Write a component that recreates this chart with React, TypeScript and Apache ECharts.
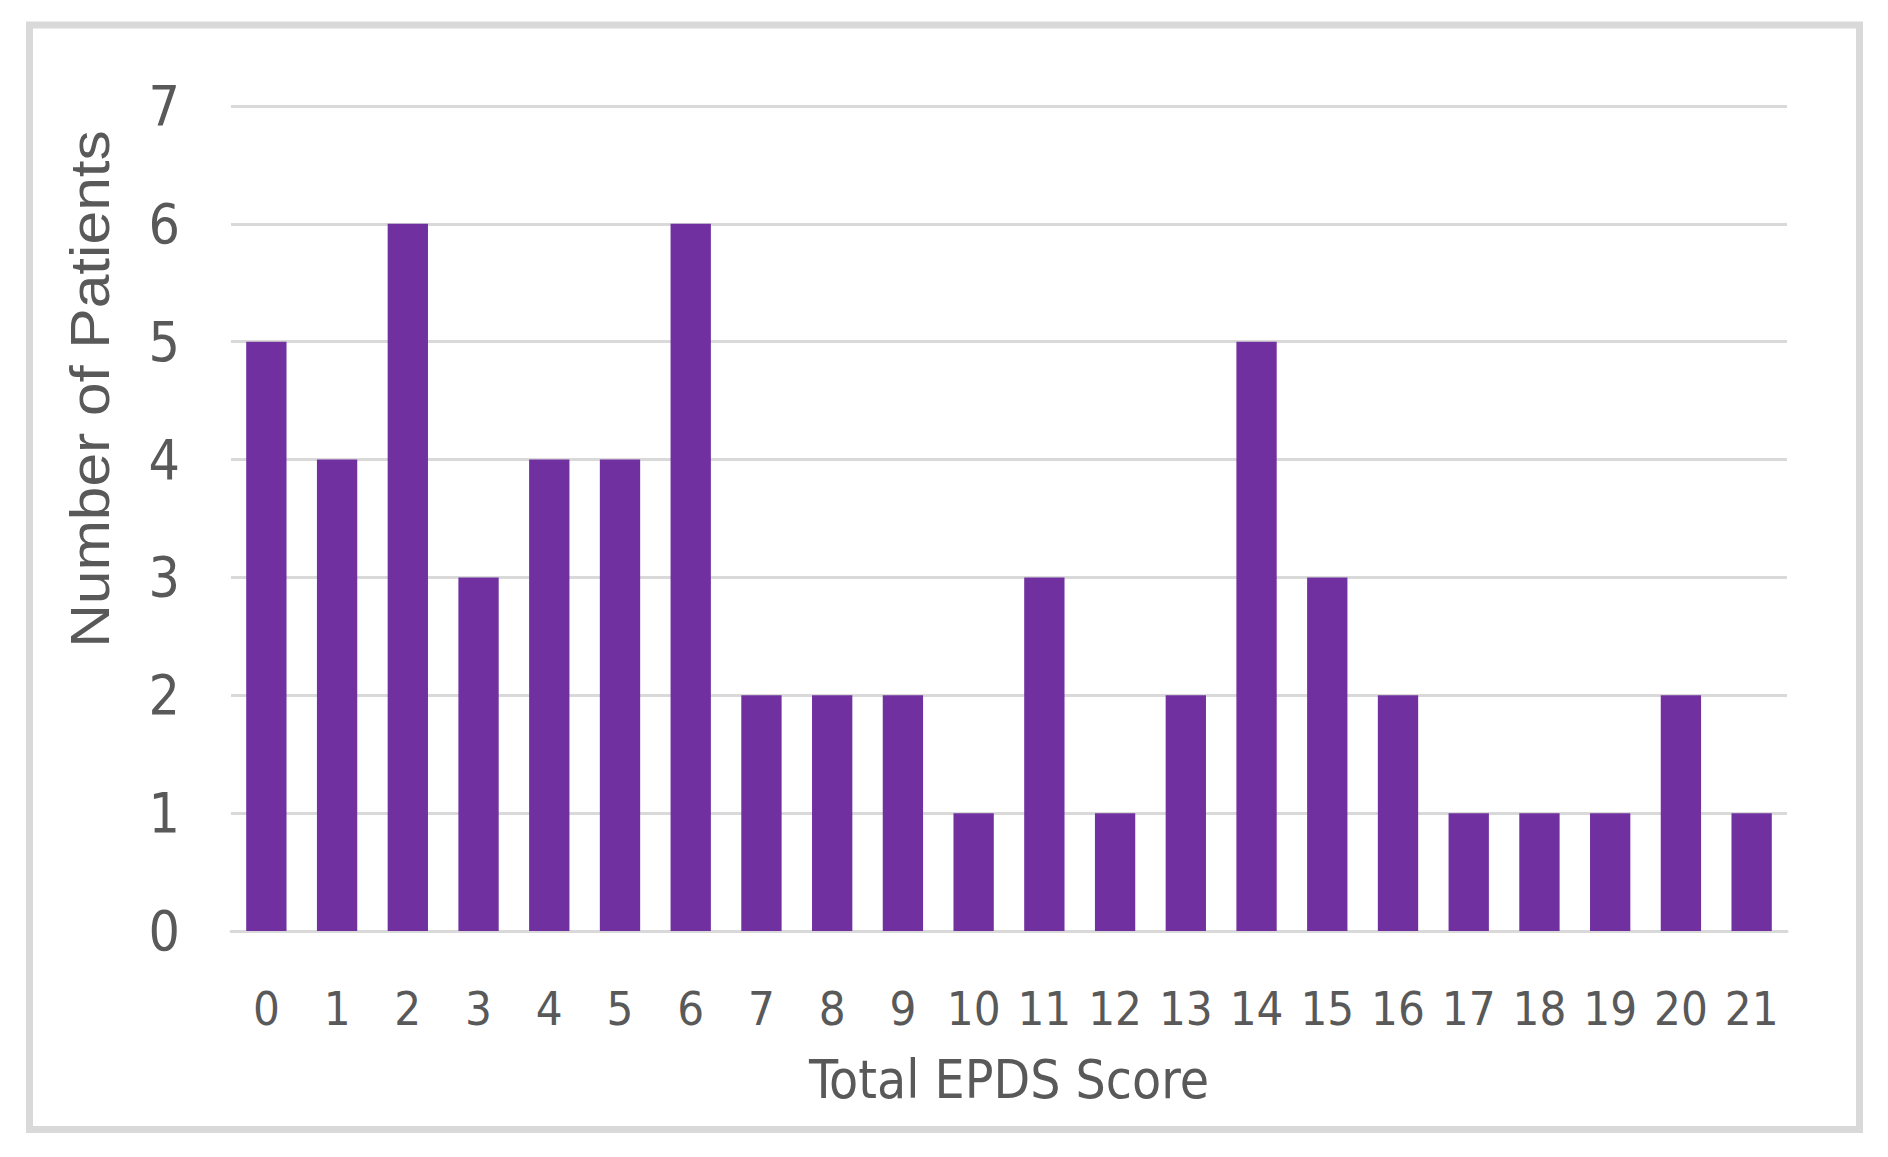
import React, { useEffect, useRef } from "react";
import * as echarts from "echarts";

const categories = ["0","1","2","3","4","5","6","7","8","9","10","11","12","13","14","15","16","17","18","19","20","21"];
const patients = [5,4,6,3,4,4,6,2,2,2,1,3,1,2,5,3,2,1,1,1,2,1];
const xTitle = "Total EPDS Score";
const yTitle = "Number of Patients";

const TEXT = "#595959";
const GRID = "#d9d9d9";
const BAR = "#7030A0";
const NARROW = "'Liberation Sans Narrow', 'DejaVu Sans Condensed', 'Liberation Sans', sans-serif";

export default function App() {
  const ref = useRef<HTMLDivElement>(null);
  useEffect(() => {
    if (!ref.current) return;
    const chart = echarts.init(ref.current, null, { renderer: "svg" });
    chart.setOption({
      animation: false,
      backgroundColor: "#ffffff",
      grid: { left: 231, right: 101, top: 106, bottom: 226, containLabel: false },
      xAxis: {
        type: "category",
        data: categories,
        name: xTitle,
        nameLocation: "middle",
        nameGap: 122,
        nameTextStyle: { color: TEXT, fontFamily: NARROW, fontSize: 53, verticalAlign: "top" },
        axisLine: { show: true, lineStyle: { color: GRID, width: 3 } },
        axisTick: { show: false },
        axisLabel: { color: TEXT, fontFamily: NARROW, fontSize: 47, margin: 54, interval: 0 },
      },
      yAxis: {
        type: "value",
        min: 0,
        max: 7,
        interval: 1,
        axisLine: { show: false },
        axisTick: { show: false },
        splitLine: { show: true, lineStyle: { color: GRID, width: 3 } },
        axisLabel: { color: TEXT, fontFamily: NARROW, fontSize: 55, margin: 51 },
      },
      graphic: [
        {
          type: "rect",
          shape: { x: 29.5, y: 25, width: 1830, height: 1104.5 },
          style: { fill: "none", stroke: GRID, lineWidth: 7 },
          silent: true,
        },
        {
          type: "text",
          x: 90,
          y: 389,
          rotation: Math.PI / 2,
          scaleX: 1.1,
          style: {
            text: yTitle,
            fill: TEXT,
            font: "55px 'Liberation Sans', sans-serif",
            textAlign: "center",
            textVerticalAlign: "middle",
          },
        },
      ],
      series: [
        {
          type: "bar",
          data: patients,
          barCategoryGap: "43%",
          itemStyle: { color: BAR },
        },
      ],
    });
    return () => chart.dispose();
  }, []);
  return <div ref={ref} style={{ position: "fixed", left: 0, top: 0, width: 1888, height: 1157 }} />;
}
